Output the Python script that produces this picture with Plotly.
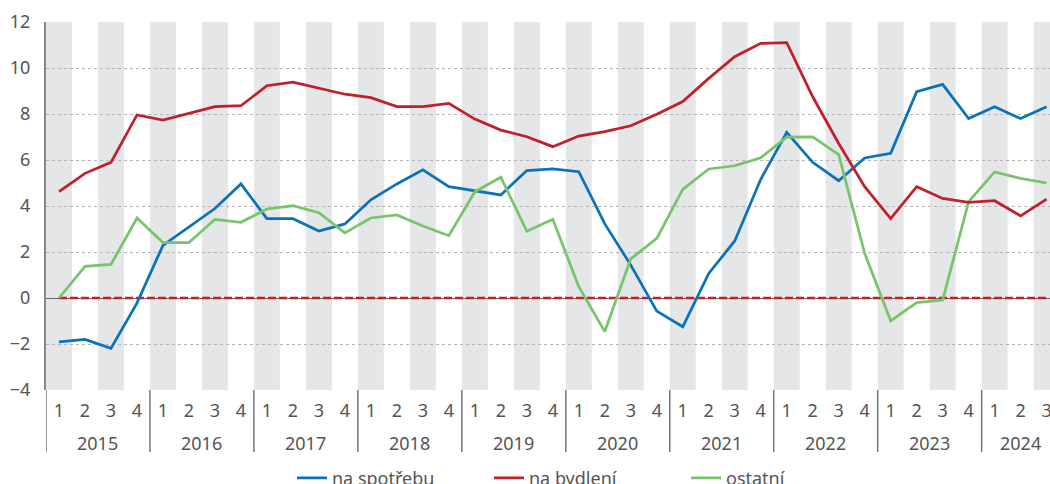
import plotly.graph_objects as go

years = ["2015"] * 4 + ["2016"] * 4 + ["2017"] * 4 + ["2018"] * 4 + ["2019"] * 4 + \
        ["2020"] * 4 + ["2021"] * 4 + ["2022"] * 4 + ["2023"] * 4 + ["2024"] * 3
quarters = ["1", "2", "3", "4"] * 9 + ["1", "2", "3"]

na_spotrebu = [-1.91, -1.80, -2.19, -0.22, 2.29, 3.10, 3.89, 4.96, 3.45, 3.45, 2.91, 3.22,
               4.27, 4.96, 5.57, 4.84, 4.65, 4.48, 5.54, 5.61, 5.49, 3.22, 1.43, -0.57,
               -1.25, 1.07, 2.48, 5.16, 7.20, 5.90, 5.10, 6.09, 6.29, 8.97, 9.29, 7.80,
               8.32, 7.80, 8.32]
na_bydleni = [4.62, 5.42, 5.90, 7.96, 7.74, 8.03, 8.32, 8.36, 9.23, 9.38, 9.12, 8.86,
              8.71, 8.32, 8.32, 8.46, 7.78, 7.30, 7.01, 6.58, 7.04, 7.23, 7.49, 7.99,
              8.54, 9.55, 10.49, 11.07, 11.10, 8.75, 6.72, 4.84, 3.45, 4.84, 4.33, 4.16,
              4.23, 3.57, 4.30]
ostatni = [0.00, 1.38, 1.46, 3.48, 2.41, 2.41, 3.42, 3.29, 3.87, 4.01, 3.71, 2.83,
           3.48, 3.61, 3.13, 2.71, 4.62, 5.25, 2.90, 3.42, 0.49, -1.46, 1.70, 2.59,
           4.72, 5.61, 5.75, 6.10, 6.99, 7.01, 6.23, 1.94, -0.99, -0.20, -0.09, 4.19,
           5.48, 5.20, 5.00]
nula = [0.0] * len(quarters)

FONT = "Noto Sans"
TXT = "#555555"
PLOT_H = 368

idx = list(range(len(quarters)))

fig = go.Figure()
fig.add_trace(go.Scatter(x=idx, y=nula, mode="lines", showlegend=False, hoverinfo="skip",
                         line=dict(color="#c0202b", width=2.5, dash="8px,3px")))
fig.add_trace(go.Scatter(x=idx, y=na_spotrebu, mode="lines", name="na spotřebu",
                         line=dict(color="#0b72b9", width=2.75), legendrank=1))
fig.add_trace(go.Scatter(x=idx, y=ostatni, mode="lines", name="ostatní",
                         line=dict(color="#78c46a", width=2.75), legendrank=3))
fig.add_trace(go.Scatter(x=idx, y=na_bydleni, mode="lines", name="na bydlení",
                         line=dict(color="#c0202b", width=2.75), legendrank=2))

shapes = []
annotations = []
# grey bands on odd quarters
for i, q in enumerate(quarters):
    if q in ("1", "3"):
        shapes.append(dict(type="rect", xref="x", yref="paper", x0=i - 0.5, x1=i + 0.5,
                           y0=0, y1=1, fillcolor="#e5e6e8", line=dict(width=0),
                           layer="below"))
# year group labels and dividers
uniq_years = list(dict.fromkeys(years))
for y in uniq_years:
    pos = [i for i, yy in enumerate(years) if yy == y]
    annotations.append(dict(x=sum(pos) / len(pos), y=-53 / PLOT_H, xref="x", yref="paper",
                            text=y, showarrow=False, yanchor="middle",
                            font=dict(family=FONT, size=18, color=TXT)))
    shapes.append(dict(type="line", xref="x", yref="paper", x0=pos[0] - 0.5,
                       x1=pos[0] - 0.5, y0=0, y1=-62 / PLOT_H,
                       line=dict(color="#777777", width=1.5), layer="above"))

fig.update_layout(
    width=1050, height=484,
    margin=dict(l=46, r=0, t=22, b=94, autoexpand=False),
    paper_bgcolor="white", plot_bgcolor="white",
    font=dict(family=FONT, size=18, color=TXT),
    shapes=shapes, annotations=annotations,
    showlegend=True,
    legend=dict(orientation="h", x=(292 - 46) / 1004, xanchor="left", yref="container",
                y=0.012, yanchor="middle", font=dict(size=18, color=TXT),
                traceorder="normal", entrywidth=152, bgcolor="rgba(0,0,0,0)"),
    xaxis=dict(range=[-0.5, 38.13], showgrid=False, showline=False, ticks="",
               tickmode="array", tickvals=idx, ticktext=quarters,
               tickfont=dict(size=18, color=TXT), zeroline=False,
               automargin=False, ticklabelstandoff=8, ticklabeloverflow="allow"),
    yaxis=dict(range=[-4, 12], dtick=2, showgrid=True, gridcolor="#b5b5b5",
               griddash="dot", gridwidth=1, zeroline=True, zerolinecolor="#666666",
               zerolinewidth=1, showline=True, linecolor="#888888", linewidth=2,
               ticks="", ticklabelstandoff=10, tickfont=dict(size=18, color=TXT),
               automargin=False),
)

fig.write_html("out.html", config={"displayModeBar": False},
               post_script="document.body.style.margin='0';")
